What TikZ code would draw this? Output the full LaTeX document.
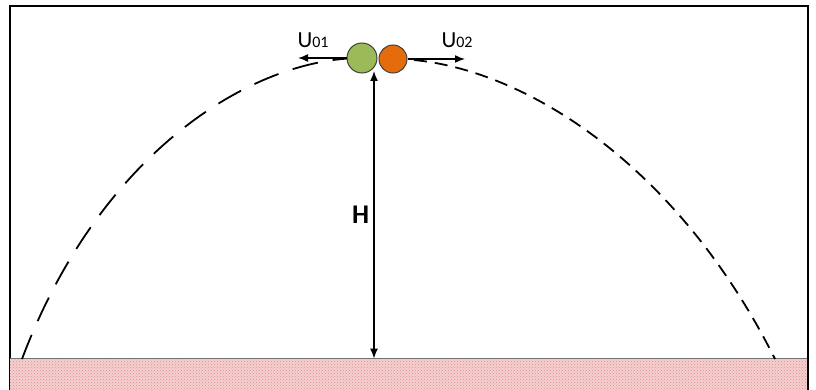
\documentclass[tikz,border=0pt]{standalone}
\usepackage{fontspec}
\setmainfont{Carlito}
\usetikzlibrary{arrows.meta,positioning,patterns}
\definecolor{ballgreen}{RGB}{155,187,89}
\definecolor{ballorange}{RGB}{228,108,10}
\definecolor{groundpink}{RGB}{244,208,208}
\definecolor{hatchpink}{RGB}{222,140,140}

\begin{document}
\begin{tikzpicture}[x=1pt,y=-1pt,
   ball/.style={circle,draw=black!75,line width=1,inner sep=0pt},
   vec/.style={-{Latex[length=10,width=8]},line width=1.5},
   dim/.style={{Latex[length=10,width=8]}-{Latex[length=10,width=8]},line width=1.5},
   traj/.style={line width=1.8},
   ground/.style={fill=groundpink,postaction={pattern=crosshatch dots,pattern color=hatchpink},
                  inner sep=0pt,minimum width=797,minimum height=31},
   lbl/.style={font=\fontsize{23}{23}\selectfont,inner sep=0pt}]
  \useasboundingbox (0,0) rectangle (816,390);
  % frame and ground
  \draw[line width=2] (10,390) |- (808,6) -- (808,390);
  \node[ground,anchor=south west] (gr) at (10,390) {};
  \draw[black!55,line width=1.5] (gr.north west) -- (gr.north east);
  \coordinate (lf) at (22,359);
  \coordinate (rf) at (775,359);
  \coordinate (htop) at (374,71);
  \coordinate (u1) at (298,58);
  \coordinate (u2) at (465,59);
  % trajectories
  \draw[traj,dash pattern=on 26 off 15] (lf) .. controls (100,152) and (252,58) .. (362,58);
  \draw[traj,dash pattern=on 13 off 8] (393,59) .. controls (505,59) and (670,150) .. (rf);
  % balls
  \node[ball,fill=ballgreen,minimum size=30] (g) at (362,58) {};
  \node[ball,fill=ballorange,minimum size=28] (o) at (393,59) {};
  \draw[vec] (g.west) -- (u1);
  \draw[vec] (o.east) -- (u2);
  \draw[dim] (htop) -- (htop |- gr.north)
       node[midway,left=4pt,font=\bfseries\fontsize{27}{27}\selectfont,inner sep=0pt] (hl) {H};
  \node[lbl,anchor=base] (l1) at (313,48) {U{\fontsize{16}{16}\selectfont 01}};
  \node[lbl,anchor=base] (l2) at (457,48) {U{\fontsize{16}{16}\selectfont 02}};
\end{tikzpicture}
\end{document}
